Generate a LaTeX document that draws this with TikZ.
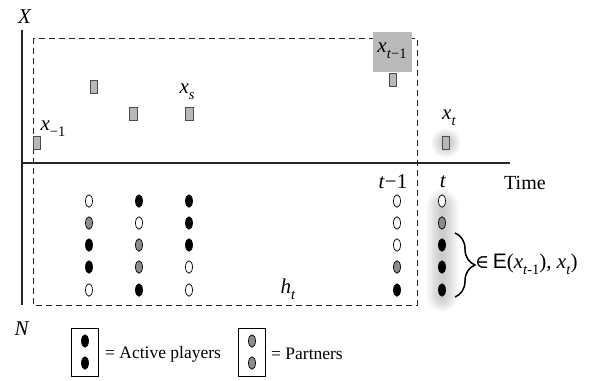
\documentclass[tikz,border=0pt]{standalone}
\usepackage{fontspec}
\setmainfont{Liberation Serif}
\newfontfamily\symfont{DejaVu Serif}
\newfontfamily\sanfont{Liberation Sans}
\usetikzlibrary{shapes.geometric,decorations.pathreplacing}
\newcommand\vv[1]{\textit{#1}}
\newcommand\sbs[1]{\raisebox{-0.3em}{\fontsize{14.5}{15}\selectfont #1}}
\begin{document}
\begin{tikzpicture}[x=1pt,y=-1pt,
  pl/.style={ellipse,draw=black,line width=0.7pt,minimum width=7pt,minimum height=12.5pt,inner sep=0pt},
  pw/.style={pl,fill=white},
  pg/.style={pl,fill=black!45},
  pb/.style={pl,fill=black},
  sq/.style={rectangle,draw=black!70,fill=black!28,minimum width=7.5pt,minimum height=13pt,inner sep=0pt,line width=0.6pt},
  lab/.style={font=\fontsize{21}{23}\selectfont,inner sep=0pt},
  leg/.style={font=\fontsize{17.5}{19}\selectfont,inner sep=0pt,anchor=west},
  axis/.style={line width=1.1pt,black!85},
  dashbox/.style={dash pattern=on 6pt off 4pt,line width=1pt,black!85},
  legbox/.style={draw=black,line width=0.8pt,minimum width=27pt,minimum height=48pt,inner sep=0pt}
]
\useasboundingbox (0,0) rectangle (596,380);

% glows
\foreach \i in {1,...,14}
  \fill[black,opacity=0.016,rounded corners={2+\i*1.1pt}] (442.5-1-\i*1.1,203-\i*1.0) rectangle (442.5+1+\i*1.1,298+\i*1.0);
\foreach \i in {1,...,9}
  \fill[black,opacity=0.022] (446,143) circle ({4+\i*1.2});

% axes
\coordinate (ytop) at (22,30);
\coordinate (ybot) at (22,305);
\coordinate (xl) at (22,163);
\coordinate (xr) at (510,163);
\draw[axis] (ytop) -- (ybot);
\draw[axis] (xl) -- (xr);

% dashed history box
\draw[dashbox] (33,38) rectangle (417,305);

% shaded label box for x_{t-1}
\node[fill=black!27,minimum width=39pt,minimum height=40pt,inner sep=0pt] (xtmbox) at (392.5,52) {};
\node[lab] (lxtm) at (392,51) {\vv{x}\sbs{\vv{t}−1}};

% axis labels
\node[lab] (lX) at (25,17) {\vv{X}};
\node[lab] (lN) at (22,329) {\vv{N}};
\node[leg,font=\fontsize{20}{22}\selectfont] (ltime) at (504,183) {Time};
\node[lab] (ltm1) at (393,182) {\vv{t}−1};
\node[lab] (lt) at (443,182) {\vv{t}};
\node[lab] (lht) at (288,289) {\vv{h}\sbs{\vv{t}}};

% states
\node[sq] (s1) at (37,143) {};
\node[sq] (s2) at (94,87) {};
\node[sq] (s3) at (133.5,113.5) {};
\node[sq] (s4) at (189.5,113.5) {};
\node[sq] (s5) at (393,79.5) {};
\node[sq] (s6) at (446,143) {};
\node[lab] (lxm1) at (53,129) {\vv{x}\sbs{−1}};
\node[lab] (lxs) at (187,92) {\vv{x}\sbs{\vv{s}}};
\node[lab] (lxt) at (449,118) {\vv{x}\sbs{\vv{t}}};

% players
\foreach \col/\x/\a/\b/\c/\d/\e in {a/89/pw/pg/pb/pb/pw, b/139/pb/pw/pg/pg/pb, c/189/pb/pb/pb/pw/pw, d/397/pw/pw/pw/pg/pb, e/442/pw/pg/pb/pb/pb}{
  \node[\a] (\col1) at (\x,201) {};
  \node[\b] (\col2) at (\x,223) {};
  \node[\c] (\col3) at (\x,245) {};
  \node[\d] (\col4) at (\x,267) {};
  \node[\e] (\col5) at (\x,290) {};
}

% brace
\coordinate (btop) at (455,233);
\coordinate (bbot) at (455,297);
\draw[decorate,decoration={brace,amplitude=20pt},line width=1.5pt] (btop) -- (bbot);
\node[lab,anchor=west] (lin) at (475,264) {{\symfont\fontsize{19}{21}\selectfont ∈}\,{\sanfont E}(\vv{x}\sbs{\vv{t}-1}), \vv{x}\sbs{\vv{t}})};

% legend
\node[legbox] (lb1) at (85,352) {};
\node[pb] (lb1a) at (85,341) {};
\node[pb] (lb1b) at (85,363) {};
\node[leg] (lt1) at (105,354) {= Active players};
\node[legbox] (lb2) at (252,352) {};
\node[pg] (lb2a) at (252,341) {};
\node[pg] (lb2b) at (252,363) {};
\node[leg] (lt2) at (271,354) {= Partners};
\end{tikzpicture}
\end{document}
